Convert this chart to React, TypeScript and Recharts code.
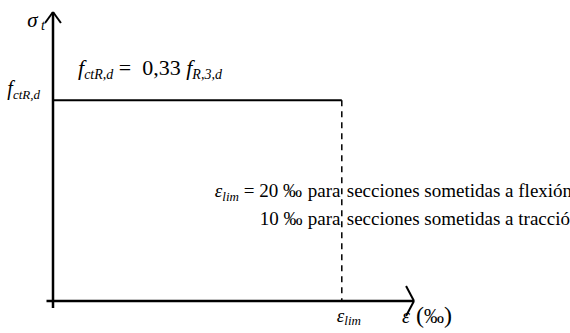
import React from 'react';
import { LineChart, Line, XAxis, YAxis, ReferenceLine, ReferenceDot } from 'recharts';

// strain (‰) and stress (relative to f_ctR,d)
const plateauEps = [0, 20];
const plateauSigma = [1, 1];
const limitEps = [20, 20];
const limitSigma = [1, 0];
const epsDomain = [0, 25];
const sigmaDomain = [0, 1.44];

const plateau = plateauEps.map((e, i) => ({ eps: e, sigma: plateauSigma[i] }));
const limitLine = limitEps.map((e, i) => ({ eps: e, sigma: limitSigma[i] }));

const FONT = "'Liberation Serif', 'Times New Roman', 'DejaVu Serif', serif";

type Part = { t: string; it?: boolean; sub?: boolean; size?: number };

// text made of runs, subscripts shifted down
const Note = ({ cx, cy, dx = 0, dy = 0, size = 19, subSize = 13, shift = 4, anchor = 'start', parts }: any) => {
  let prev = 0;
  return (
    <text
      x={cx + dx}
      y={cy + dy}
      textAnchor={anchor}
      fontSize={size}
      fill="#000"
      style={{ fontFamily: FONT, whiteSpace: 'pre' }}
    >
      {parts.map((p: Part, i: number) => {
        const cur = p.sub ? shift : 0;
        const d = cur - prev;
        prev = cur;
        return (
          <tspan
            key={i}
            dy={d}
            fontSize={p.size ?? (p.sub ? subSize : size)}
            fontStyle={p.it || p.sub ? 'italic' : 'normal'}
          >
            {p.t}
          </tspan>
        );
      })}
    </text>
  );
};

const arrow = { stroke: '#000', strokeWidth: 2.5, ifOverflow: 'visible' as const };

export default function App() {
  return (
    <div style={{ position: 'absolute', left: 0, top: 0, background: '#fff' }}>
      <LineChart
        width={570}
        height={333}
        margin={{ top: 12, right: 156, bottom: 32, left: 53 }}
      >
        <XAxis type="number" dataKey="eps" domain={epsDomain} hide allowDataOverflow />
        <YAxis type="number" dataKey="sigma" domain={sigmaDomain} hide allowDataOverflow />

        {/* axes */}
        <ReferenceLine segment={[{ x: -0.45, y: 0 }, { x: 25, y: 0 }]} {...arrow} />
        <ReferenceLine segment={[{ x: 0, y: -0.035 }, { x: 0, y: 1.44 }]} {...arrow} />
        <ReferenceLine segment={[{ x: -0.55, y: 1.385 }, { x: 0, y: 1.44 }]} {...arrow} strokeWidth={2} />
        <ReferenceLine segment={[{ x: 0.55, y: 1.385 }, { x: 0, y: 1.44 }]} {...arrow} strokeWidth={2} />
        <ReferenceLine segment={[{ x: 24.45, y: 0.075 }, { x: 25, y: 0 }]} {...arrow} strokeWidth={2} />
        <ReferenceLine segment={[{ x: 24.45, y: -0.075 }, { x: 25, y: 0 }]} {...arrow} strokeWidth={2} />

        <Line
          data={plateau}
          dataKey="sigma"
          stroke="#000"
          strokeWidth={2}
          dot={false}
          isAnimationActive={false}
        />
        <Line
          data={limitLine}
          dataKey="sigma"
          stroke="#000"
          strokeWidth={1.5}
          strokeDasharray="6 5"
          dot={false}
          isAnimationActive={false}
        />

        {/* labels */}
        <ReferenceDot
          x={0}
          y={1.44}
          ifOverflow="visible"
          shape={(p: any) => (
            <Note {...p} dx={-8} dy={15} size={21} subSize={14} shift={3} anchor="end"
              parts={[{ t: 'σ', it: true }, { t: ' t', sub: true }]} />
          )}
        />
        <ReferenceDot
          x={0}
          y={1}
          ifOverflow="visible"
          shape={(p: any) => (
            <Note {...p} dx={-13} dy={-5} size={20} subSize={13}
              anchor="end"
              parts={[{ t: 'f', it: true }, { t: 'ctR,d', sub: true }]} />
          )}
        />
        <ReferenceDot
          x={0}
          y={1}
          ifOverflow="visible"
          shape={(p: any) => (
            <Note {...p} dx={25} dy={-25} size={22} subSize={14}
              parts={[
                { t: 'f', it: true },
                { t: 'ctR,d', sub: true },
                { t: ' =  0,33 ' },
                { t: 'f', it: true },
                { t: 'R,3,d', sub: true },
              ]} />
          )}
        />
        <ReferenceDot
          x={20}
          y={0}
          ifOverflow="visible"
          shape={(p: any) => (
            <g>
              <Note {...p} dx={-127} dy={-104} size={19}
                parts={[{ t: 'ε', it: true }, { t: 'lim', sub: true }, { t: ' = 20 ‰' }]} />
              <Note {...p} dx={-34} dy={-104} size={19} parts={[{ t: 'para' }]} />
              <Note {...p} dx={5} dy={-104} size={19} parts={[{ t: 'secciones sometidas a flexión' }]} />
              <Note {...p} dx={-82} dy={-76} size={19} parts={[{ t: '10 ‰' }]} />
              <Note {...p} dx={-34} dy={-76} size={19} parts={[{ t: 'para' }]} />
              <Note {...p} dx={5} dy={-76} size={19} parts={[{ t: 'secciones sometidas a tracción' }]} />
            </g>
          )}
        />
        <ReferenceDot
          x={20}
          y={0}
          ifOverflow="visible"
          shape={(p: any) => (
            <Note {...p} dx={-5} dy={21} size={19} shift={3}
              parts={[{ t: 'ε', it: true }, { t: 'lim', sub: true }]} />
          )}
        />
        <ReferenceDot
          x={25}
          y={0}
          ifOverflow="visible"
          shape={(p: any) => (
            <Note {...p} dx={-12} dy={22} size={20}
              parts={[{ t: 'ε', it: true }, { t: ' (', size: 24 }, { t: '‰' }, { t: ')', size: 24 }]} />
          )}
        />
      </LineChart>
    </div>
  );
}
